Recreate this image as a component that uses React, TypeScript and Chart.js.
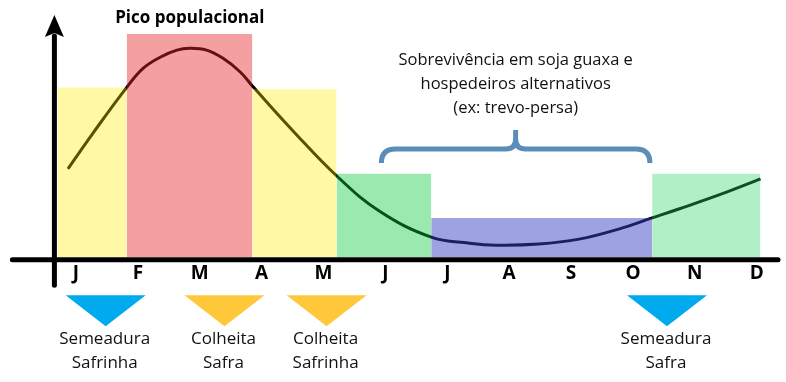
import React, { useEffect, useRef } from 'react';
import { Chart, registerables } from 'chart.js';

Chart.register(...registerables);

// ---- data ----
const months = ['J', 'F', 'M', 'A', 'M', 'J', 'J', 'A', 'S', 'O', 'N', 'D'];
const monthIndex = [0, 1, 2, 3, 4, 5, 6, 7, 8, 9, 10, 11];

// background periods (month coordinates, level 0-100)
const periodStart = [-0.29, 0.82, 2.85, 4.21, 5.74, 9.31];
const periodEnd = [0.82, 2.85, 4.21, 5.74, 9.31, 11.06];
const periodLevel = [76, 100, 75.2, 37.4, 17.6, 37.4];
const periodColor = [
  'rgba(255,238,0,0.35)',
  'rgba(230,39,44,0.44)',
  'rgba(255,238,0,0.35)',
  'rgba(10,205,63,0.41)',
  'rgba(57,65,196,0.49)',
  'rgba(44,215,100,0.37)',
];

// population curve
const curveMonth = [-0.13, 0.27, 0.82, 1.08, 1.36, 1.63, 1.84, 2.11, 2.37, 2.65, 2.87, 3.53, 4.21, 4.9, 5.74, 6.36, 6.79, 7.48, 8.13, 8.77, 9.31, 9.74, 10.39, 11.06];
const curveLevel = [39.6, 55.4, 76.1, 84.5, 89.6, 92.8, 93.6, 92.8, 89.2, 83.1, 76.1, 55.9, 36.5, 20.7, 9.0, 6.3, 5.4, 5.9, 8.1, 12.6, 17.6, 21.6, 27.9, 35.1];

// event markers under the axis
const markerMonth = [0.48, 2.4, 4.05, 9.55];
const markerColor = ['#00AAEF', '#FFC83A', '#FFC83A', '#00AAEF'];
const markerLabel = [
  ['Semeadura', 'Safrinha'],
  ['Colheita', 'Safra'],
  ['Colheita', 'Safrinha'],
  ['Semeadura', 'Safra'],
];

const peakLabel = 'Pico populacional';
const peakMonth = 1.84;
const braceStart = 4.935;
const braceEnd = 9.274;
const braceLines = ['Sobrevivência em soja guaxa e', 'hospedeiros alternativos', '(ex: trevo-persa)'];

const FONT = '"Open Sans", "Noto Sans", sans-serif';

const overlay = {
  id: 'overlay',
  afterDraw(chart: any) {
    const { ctx, chartArea, scales } = chart;
    const { left, right, top, bottom } = chartArea;
    const x = scales.x;
    ctx.save();

    // x axis
    ctx.strokeStyle = '#000';
    ctx.lineWidth = 5;
    ctx.lineCap = 'round';
    ctx.beginPath();
    ctx.moveTo(left - 45, bottom + 2.5);
    ctx.lineTo(right + 12, bottom + 2.5);
    ctx.stroke();

    // y axis with arrow
    const ax = left - 3;
    ctx.lineCap = 'round';
    ctx.beginPath();
    ctx.moveTo(ax, bottom + 28);
    ctx.lineTo(ax, top + 2);
    ctx.stroke();
    ctx.fillStyle = '#000';
    ctx.beginPath();
    ctx.moveTo(ax, top - 19);
    ctx.lineTo(ax + 9.5, top + 3);
    ctx.lineTo(ax, top - 1);
    ctx.lineTo(ax - 9.5, top + 3);
    ctx.closePath();
    ctx.fill();

    // markers
    markerMonth.forEach((m, i) => {
      const cx = x.getPixelForValue(m);
      const ty = bottom + 38;
      ctx.fillStyle = markerColor[i];
      ctx.beginPath();
      ctx.moveTo(cx - 40, ty);
      ctx.lineTo(cx + 40, ty);
      ctx.lineTo(cx, ty + 31);
      ctx.closePath();
      ctx.fill();
      ctx.fillStyle = '#111';
      ctx.font = `17px ${FONT}`;
      ctx.textAlign = 'center';
      ctx.textBaseline = 'middle';
      ctx.fillText(markerLabel[i][0], cx - 1, bottom + 82);
      ctx.fillText(markerLabel[i][1], cx - 1, bottom + 106);
    });

    // peak label
    ctx.fillStyle = '#000';
    ctx.font = `bold 17px ${FONT}`;
    ctx.textAlign = 'center';
    ctx.textBaseline = 'middle';
    ctx.fillText(peakLabel, x.getPixelForValue(peakMonth), top - 16);

    // brace
    const bl = x.getPixelForValue(braceStart);
    const br = x.getPixelForValue(braceEnd);
    const bc = (bl + br) / 2;
    const by = top + 115;
    ctx.strokeStyle = '#5A8DB8';
    ctx.lineWidth = 5;
    ctx.lineCap = 'butt';
    ctx.lineJoin = 'round';
    ctx.beginPath();
    ctx.moveTo(bl, by + 14);
    ctx.quadraticCurveTo(bl, by, bl + 14, by);
    ctx.lineTo(bc - 10, by);
    ctx.quadraticCurveTo(bc, by, bc, by - 10);
    ctx.lineTo(bc, by - 19);
    ctx.moveTo(bc, by - 10);
    ctx.quadraticCurveTo(bc, by, bc + 10, by);
    ctx.lineTo(br - 14, by);
    ctx.quadraticCurveTo(br, by, br, by + 14);
    ctx.stroke();

    ctx.fillStyle = '#111';
    ctx.font = `16.5px ${FONT}`;
    braceLines.forEach((t, i) => {
      ctx.fillText(t, bc, top + 26 + i * 24);
    });

    ctx.restore();
  },
};

export default function App() {
  const ref = useRef<HTMLCanvasElement>(null);
  useEffect(() => {
    document.body.style.margin = '0';
    const canvas = ref.current!;
    const periodSets = periodStart.map((s, i) => ({
      type: 'line' as const,
      data: [
        { x: s, y: periodLevel[i] },
        { x: periodEnd[i], y: periodLevel[i] },
      ],
      backgroundColor: periodColor[i],
      borderColor: 'rgba(0,0,0,0)',
      borderWidth: 0,
      pointRadius: 0,
      fill: 'origin',
      tension: 0,
      order: 1,
    }));
    const chart = new Chart(canvas, {
      type: 'line',
      data: {
        datasets: [
          {
            data: curveMonth.map((m, i) => ({ x: m, y: curveLevel[i] })),
            borderColor: '#000',
            borderWidth: 3,
            pointRadius: 0,
            fill: false,
            tension: 0.4,
            order: 10,
          },
          ...periodSets,
        ] as any,
      },
      options: {
        responsive: false,
        animation: false,
        layout: { padding: { left: 57.4, right: 20, top: 34, bottom: 92 } },
        plugins: { legend: { display: false }, tooltip: { enabled: false } },
        scales: {
          x: {
            type: 'linear',
            min: -0.3,
            max: 11.15,
            grid: { display: false, drawTicks: false },
            border: { display: false },
            afterBuildTicks: (scale: any) => {
              scale.ticks = monthIndex.map((v) => ({ value: v }));
            },
            ticks: {
              autoSkip: false,
              maxRotation: 0,
              padding: 5,
              color: '#000',
              font: { family: FONT, size: 19, weight: 'bold' },
              callback: (v: any) => months[Number(v)] ?? '',
            },
          },
          y: { display: false, min: 0, max: 100 },
        },
      },
      plugins: [overlay],
    });
    return () => chart.destroy();
  }, []);
  return (
    <div style={{ position: 'absolute', left: 0, top: 0, width: 786, height: 382, background: '#fff' }}>
      <canvas ref={ref} width={786} height={382} style={{ width: 786, height: 382, display: 'block' }} />
    </div>
  );
}
